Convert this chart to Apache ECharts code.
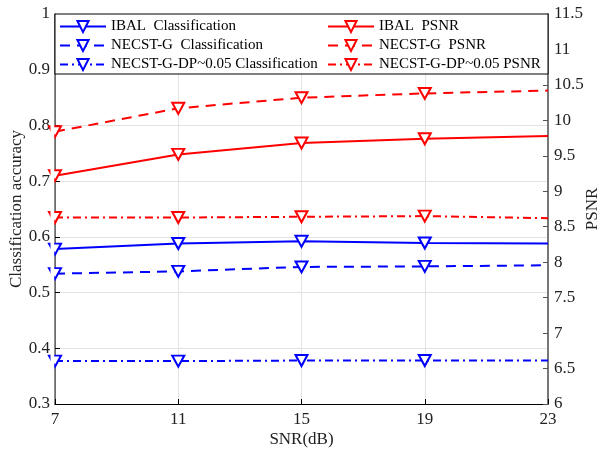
<!DOCTYPE html>
<html><head><meta charset="utf-8">
<script src="https://cdn.jsdelivr.net/npm/echarts@6/dist/echarts.min.js"></script>
<style>html,body{margin:0;padding:0;background:#fff}#c{width:600px;height:449px}</style>
</head><body><div id="c"></div>
<script>
const snr = ['7','11','15','19','23'];
const ibalCls = [0.578, 0.588, 0.592, 0.589, 0.588];
const necstCls = [0.534, 0.538, 0.546, 0.547, 0.549];
const necstDpCls = [0.377, 0.377, 0.378, 0.378, 0.378];
const ibalPsnr = [9.22, 9.52, 9.68, 9.74, 9.78];
const necstPsnr = [9.84, 10.17, 10.32, 10.38, 10.42];
const necstDpPsnr = [8.63, 8.63, 8.64, 8.65, 8.62];
const names = ['IBAL  Classification','NECST-G  Classification','NECST-G-DP~0.05 Classification',
  'IBAL  PSNR','NECST-G  PSNR','NECST-G-DP~0.05 PSNR'];

const FONT = 'Liberation Serif';
function mk(vals){ return vals.map((v,i)=> i===vals.length-1 ? {value:v, symbol:'none'} : v); }
function ser(name, vals, color, type, yIdx){
  return {name, type:'line', yAxisIndex:yIdx, data:mk(vals), symbol:'triangle', symbolRotate:180,
    symbolSize:[12,11], showAllSymbol:true,
    itemStyle:{color:'#fff', borderColor:color, borderWidth:2},
    lineStyle:{color, width:2, type}, emphasis:{disabled:true}, z:3};
}
const dashDot = [8,4,2,4];
const series = [
  ser(names[0], ibalCls, '#0000ff', 'solid', 0),
  ser(names[1], necstCls, '#0000ff', [10,7], 0),
  ser(names[2], necstDpCls, '#0000ff', dashDot, 0),
  ser(names[3], ibalPsnr, '#ff0000', 'solid', 1),
  ser(names[4], necstPsnr, '#ff0000', [10,7], 1),
  ser(names[5], necstDpPsnr, '#ff0000', dashDot, 1)
];
const ltxt = {fontFamily:FONT, fontSize:15, color:'#000', lineHeight:15};
const txt = {fontFamily:FONT, fontSize:17, color:'#222'};
const chart = echarts.init(document.getElementById('c'));
chart.setOption({
  animation:false,
  backgroundColor:'#fff',
  grid:{left:55, right:52, top:14, bottom:45, outerBoundsMode:'none', containLabel:false},
  graphic:[
    {type:'rect', z:50, shape:{x:55, y:14, width:493, height:60},
     style:{fill:'#fff', stroke:'#000', lineWidth:1}},
    {type:'rect', z:40, shape:{x:50.5, y:75, width:3.7, height:328},
     style:{fill:'#fff'}}
  ],
  legend:[
    {data:names.slice(0,3), orient:'vertical', left:59, top:19, padding:0, itemWidth:46, itemHeight:14, itemGap:4,
     textStyle:ltxt, z:60, selectedMode:false},
    {data:names.slice(3), orient:'vertical', left:327, top:19, padding:0, itemWidth:46, itemHeight:14, itemGap:4,
     textStyle:ltxt, z:60, selectedMode:false}
  ],
  xAxis:{type:'category', data:snr, boundaryGap:false,
    name:'SNR(dB)', nameLocation:'middle', nameGap:27, nameTextStyle:txt, nameMoveOverlap:false,
    axisLine:{lineStyle:{color:'#000', width:1}},
    axisTick:{inside:true, length:5, lineStyle:{color:'#000'}},
    axisLabel:{...txt, margin:7},
    splitLine:{show:true, lineStyle:{color:'#e3e3e3', width:1}}},
  yAxis:[
    {type:'value', min:0.3, max:1, interval:0.1, position:'left',
     name:'Classification accuracy', nameLocation:'middle', nameGap:30, nameTextStyle:txt, nameMoveOverlap:false,
     axisLine:{show:true, lineStyle:{color:'#444', width:1.5}},
     axisTick:{show:true, inside:true, length:5, lineStyle:{color:'#000'}},
     axisLabel:{...txt, margin:5},
     splitLine:{show:true, lineStyle:{color:'#e3e3e3', width:1}}},
    {type:'value', min:6, max:11.5, interval:0.5, position:'right',
     name:'PSNR', nameLocation:'middle', nameGap:36, nameRotate:90, nameTextStyle:txt, nameMoveOverlap:false,
     axisLine:{show:true, lineStyle:{color:'#777', width:2}},
     axisTick:{show:true, inside:true, length:5, lineStyle:{color:'#555'}},
     axisLabel:{...txt, margin:6},
     splitLine:{show:false}}
  ],
  series
});
</script></body></html>
